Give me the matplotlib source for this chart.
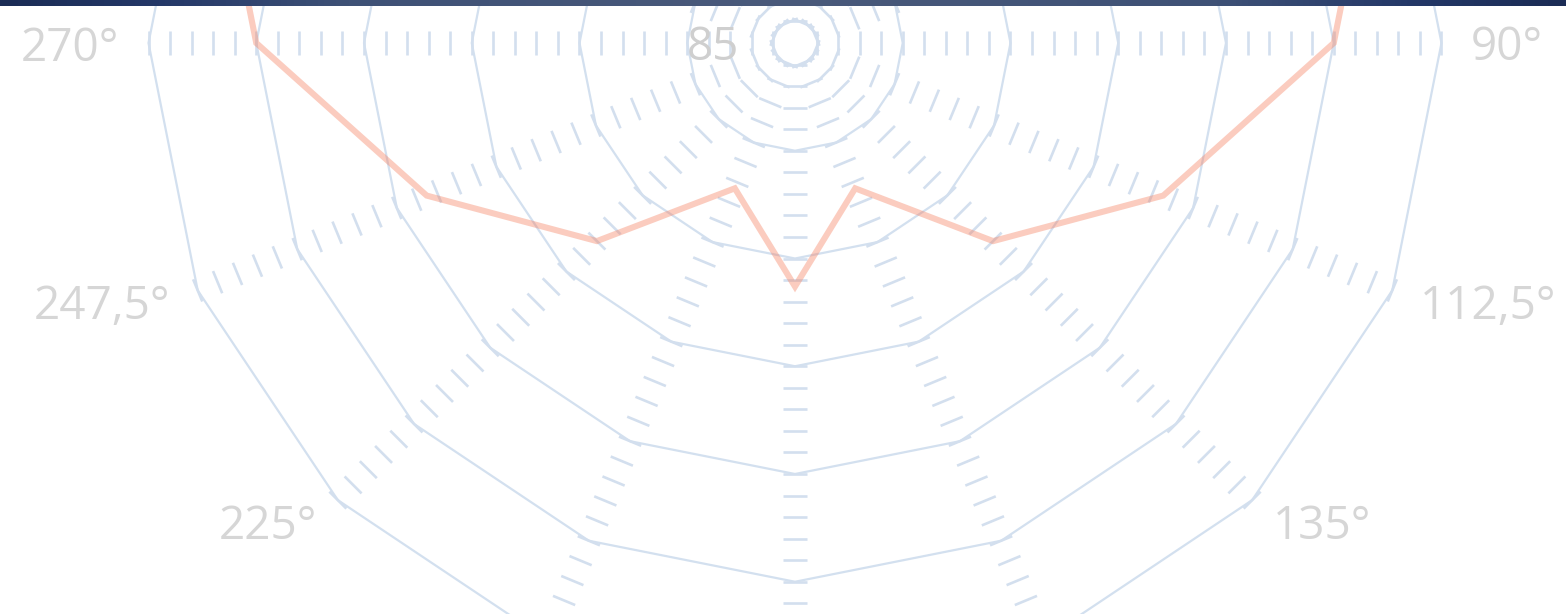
import numpy as np
import matplotlib
matplotlib.use("Agg")
import matplotlib.pyplot as plt
from matplotlib.colors import LinearSegmentedColormap

# ---------------- data ----------------
directions = [0, 22.5, 45, 67.5, 90, 112.5, 135, 157.5,
              180, 202.5, 225, 247.5, 270, 292.5, 315, 337.5]
elevation = [50, 52, 55, 60.5, 65, 71.5, 77, 82.7,
             78.7, 82.7, 77, 71.5, 65, 60.5, 55, 52]
label_directions = [90, 112.5, 135, 225, 247.5, 270]
direction_labels = ["90°", "112,5°", "135°", "225°", "247,5°", "270°"]
ring_values = [85, 80, 75, 70, 65, 60]
minor_values = list(range(60, 90))
radial_label_values = [85]

# ---------------- layout ----------------
W_PX, H_PX, DPI = 1566, 614, 100
CX, CY = 795, 614 - 43          # centre of the polar chart in pixels (from bottom-left)
PX = 21.55                      # pixels per radial unit
R_MAX = 90
R_MIN = 45
RAD_PX = (R_MAX - R_MIN) * PX

GRID_C = "#d3e0ef"
TICK_C = "#d3dfee"
TEXT_C = "#d6d6d6"
LINE_C = (0.96, 0.50, 0.38)

fig = plt.figure(figsize=(W_PX / DPI, H_PX / DPI), dpi=DPI)
fig.patch.set_facecolor("white")

ax = fig.add_axes([(CX - RAD_PX) / W_PX, (CY - RAD_PX) / H_PX,
                   2 * RAD_PX / W_PX, 2 * RAD_PX / H_PX], projection="polar")
ax.set_theta_zero_location("N")
ax.set_theta_direction(-1)
ax.set_rlim(R_MAX, R_MIN)
ax.grid(False)
ax.set_xticks([])
ax.set_yticks([])
ax.spines["polar"].set_visible(False)
ax.patch.set_visible(False)

spokes = np.deg2rad(directions)
closed = np.append(spokes, spokes[0])

# polygon rings
for v in ring_values:
    ax.plot(closed, [v] * len(closed), color=GRID_C, lw=1.6, zorder=1,
            solid_joinstyle="round")

# minor tick marks across every spoke
h = 12.0 / PX
for v in minor_values:
    d = R_MAX - v
    dd = np.hypot(d, h)
    delta = np.arctan2(h, d)
    for th in spokes:
        ax.plot([th - delta, th + delta], [R_MAX - dd, R_MAX - dd],
                color=TICK_C, lw=1.9, solid_capstyle="butt", zorder=1)

# series
ax.plot(np.deg2rad(directions + [directions[0]]), elevation + [elevation[0]],
        color=LINE_C, alpha=0.4, lw=4.4, solid_joinstyle="miter", zorder=3)

# direction labels
LABEL_R = R_MAX - 676 / PX
for a, lab in zip(label_directions, direction_labels):
    if 0 < a < 180:
        ha = "left"
    elif 180 < a < 360:
        ha = "right"
    else:
        ha = "center"
    ax.text(np.deg2rad(a), LABEL_R, lab, ha=ha, va="center_baseline",
            fontsize=33, color=TEXT_C, family=["Open Sans", "DejaVu Sans"],
            clip_on=False, zorder=4)

# radial label
for v in radial_label_values:
    ax.text(np.deg2rad(270), v, str(v), ha="left", va="center_baseline",
            fontsize=33, color="#cfcfcf", family=["Open Sans", "DejaVu Sans"],
            zorder=4)

# top gradient bar
bar = fig.add_axes([0, 1 - 6 / H_PX, 1, 6 / H_PX])
cmap = LinearSegmentedColormap.from_list(
    "bar", [(0.0, "#1b2c55"), (0.1, "#243868"), (0.22, "#3e5176"),
            (0.5, "#4a5a7b"), (0.78, "#3e5176"), (0.9, "#243868"), (1.0, "#1b2c55")])
bar.imshow(np.linspace(0, 1, 512)[None, :], aspect="auto", cmap=cmap,
           extent=[0, 1, 0, 1])
bar.set_axis_off()

fig.savefig("out.png", dpi=DPI, facecolor="white")
